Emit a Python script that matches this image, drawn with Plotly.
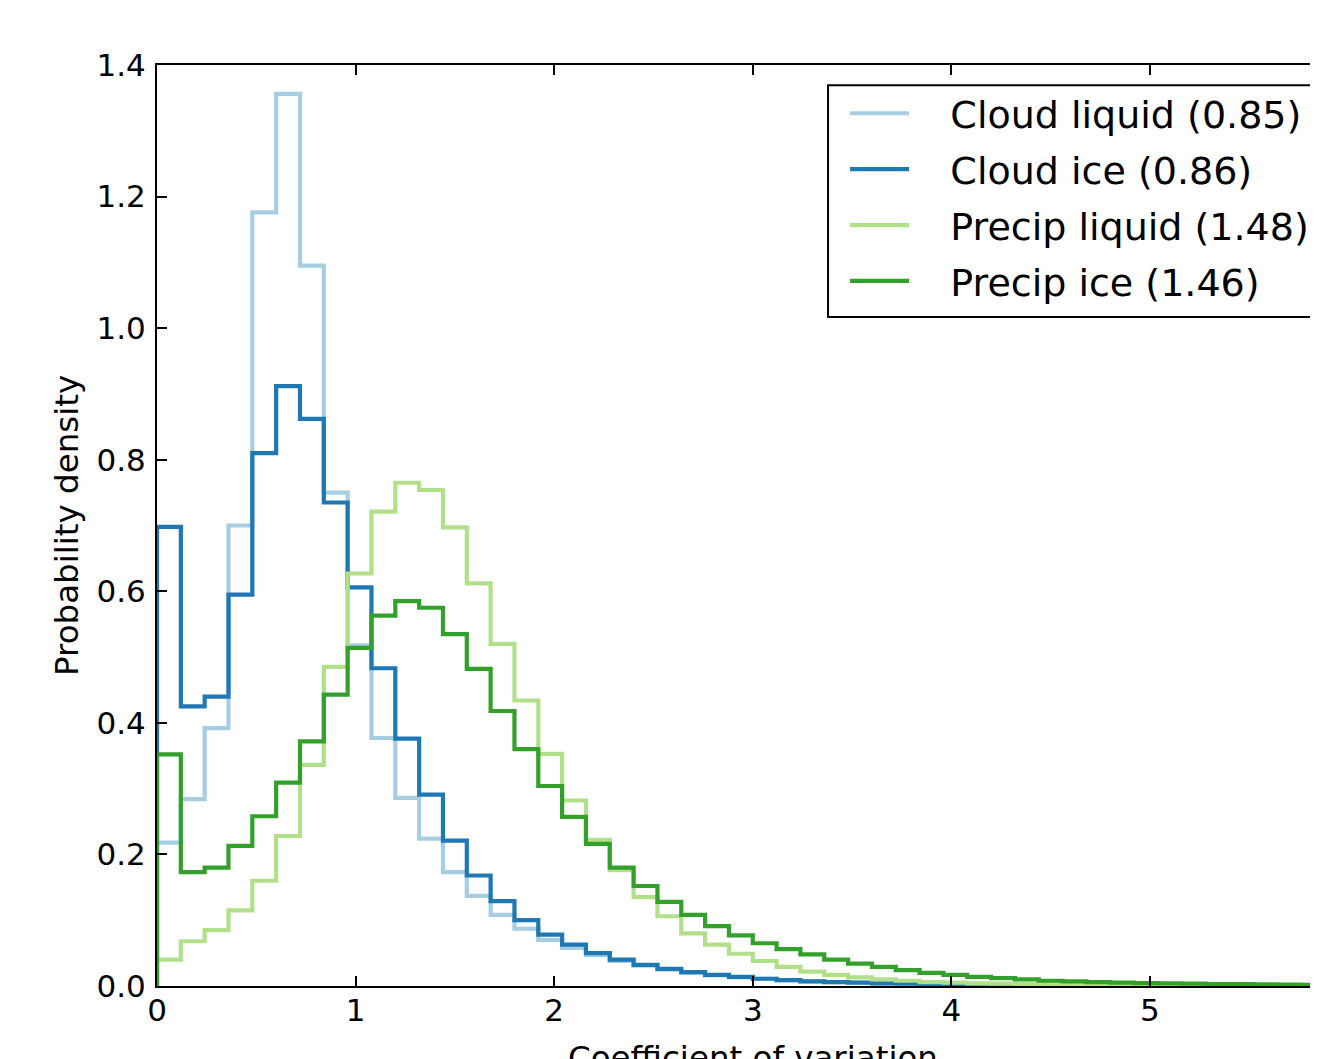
import plotly.graph_objects as go

# Histogram bin edges: 50 bins from 0 to 6 (width 0.12)
bin_edges = [round(i * 0.12, 2) for i in range(51)]

cloud_liquid = [0.218, 0.284, 0.392, 0.700, 1.176, 1.356, 1.095, 0.750, 0.518, 0.377,
                0.286, 0.224, 0.173, 0.137, 0.108, 0.087, 0.070, 0.058, 0.047, 0.038,
                0.031, 0.025, 0.020, 0.016, 0.013, 0.011, 0.009, 0.007, 0.006, 0.005,
                0.004, 0.0035, 0.003, 0.0025, 0.002, 0.0018, 0.0016, 0.0014, 0.0012, 0.0011,
                0.001, 0.0009, 0.0008, 0.0007, 0.0007, 0.0006, 0.0006, 0.0005, 0.0005, 0.0004]
cloud_ice = [0.698, 0.425, 0.440, 0.595, 0.810, 0.912, 0.862, 0.735, 0.606, 0.483,
             0.376, 0.291, 0.221, 0.168, 0.129, 0.100, 0.078, 0.063, 0.050, 0.040,
             0.032, 0.026, 0.021, 0.017, 0.014, 0.011, 0.009, 0.007, 0.006, 0.005,
             0.004, 0.0035, 0.003, 0.0025, 0.002, 0.0018, 0.0016, 0.0014, 0.0012, 0.0011,
             0.001, 0.0009, 0.0008, 0.0007, 0.0007, 0.0006, 0.0006, 0.0005, 0.0005, 0.0004]
precip_liquid = [0.040, 0.068, 0.085, 0.115, 0.160, 0.228, 0.336, 0.485, 0.627, 0.721,
                 0.765, 0.754, 0.697, 0.612, 0.520, 0.434, 0.353, 0.282, 0.222, 0.176,
                 0.135, 0.106, 0.080, 0.063, 0.049, 0.038, 0.029, 0.022, 0.017, 0.013,
                 0.010, 0.008, 0.006, 0.005, 0.004, 0.0035, 0.003, 0.0025, 0.002, 0.0018,
                 0.0016, 0.0014, 0.0012, 0.001, 0.0009, 0.0008, 0.0007, 0.0006, 0.0005, 0.0005]
precip_ice = [0.352, 0.173, 0.180, 0.213, 0.258, 0.309, 0.372, 0.443, 0.514, 0.563,
              0.585, 0.575, 0.535, 0.482, 0.418, 0.360, 0.304, 0.257, 0.216, 0.180,
              0.152, 0.128, 0.108, 0.091, 0.077, 0.065, 0.056, 0.048, 0.040, 0.034,
              0.029, 0.024, 0.020, 0.017, 0.014, 0.012, 0.010, 0.008, 0.007, 0.006,
              0.005, 0.0045, 0.004, 0.0035, 0.003, 0.0027, 0.0024, 0.002, 0.0018, 0.0015]

series_names = ["Cloud liquid (0.85)", "Cloud ice (0.86)",
                "Precip liquid (1.48)", "Precip ice (1.46)"]
series_colors = ["#a6cee3", "#1f78b4", "#b2df8a", "#33a02c"]
series_values = [cloud_liquid, cloud_ice, precip_liquid, precip_ice]

x_ticks = [0, 1, 2, 3, 4, 5]
y_ticks = [0.0, 0.2, 0.4, 0.6, 0.8, 1.0, 1.2, 1.4]
x_title = "Coefficient of variation"
y_title = "Probability density"

FONT = "DejaVu Sans"
NBSP = "\u00a0"

fig = go.Figure()
for name, color, vals in zip(series_names, series_colors, series_values):
    xs = [bin_edges[0]] + bin_edges
    ys = [0] + vals + [0]
    fig.add_trace(go.Scatter(
        x=xs, y=ys, mode="lines", name=NBSP * 3 + name, legendgroup=name,
        line=dict(color=color, width=4.2, shape="hv"),
    ))

# legend frame (extends beyond the right edge, as in the cropped original)
fig.add_shape(type="rect", xref="paper", yref="paper",
              x0=0.582, x1=1.08, y0=0.7264, y1=0.978,
              line=dict(color="black", width=2), fillcolor="rgba(0,0,0,0)", layer="above")

# axis titles (placed like the original, x title partly cropped at the bottom)
fig.add_annotation(text=x_title, xref="paper", yref="paper", x=0.5169, y=-0.0554,
                   xanchor="center", yanchor="top", showarrow=False,
                   font=dict(family=FONT, size=32.5, color="black"))
fig.add_annotation(text=y_title, xref="paper", yref="paper", x=-0.078, y=0.4995,
                   xanchor="center", yanchor="middle", textangle=-90, showarrow=False,
                   font=dict(family=FONT, size=32.5, color="black"))

fig.update_layout(
    width=1302, height=1059,
    margin=dict(l=149, r=0, t=57, b=81, autoexpand=False),
    paper_bgcolor="white", plot_bgcolor="white",
    font=dict(family=FONT, color="black", size=31),
    showlegend=True,
    legend=dict(
        x=0.5968, y=0.9815, xanchor="left", yanchor="top",
        font=dict(family=FONT, size=38.0, color="black"),
        bgcolor="rgba(0,0,0,0)", borderwidth=0,
        tracegroupgap=3.5, itemwidth=59,
    ),
)
fig.update_xaxes(
    range=[0, 5.806], tickvals=x_ticks, ticktext=[str(v) for v in x_ticks],
    ticks="inside", ticklen=10, tickwidth=1.5, tickcolor="black",
    showline=True, linecolor="black", linewidth=2, mirror="ticks",
    showgrid=False, zeroline=False,
    tickfont=dict(family=FONT, size=31), ticklabelstandoff=-4,
)
fig.update_yaxes(
    range=[0, 1.4], tickvals=y_ticks, ticktext=[f"{v:.1f}" for v in y_ticks],
    ticks="inside", ticklen=10, tickwidth=1.5, tickcolor="black",
    showline=True, linecolor="black", linewidth=2,
    showgrid=False, zeroline=False,
    tickfont=dict(family=FONT, size=31), ticklabelstandoff=3,
)

fig.write_html("out.html")
